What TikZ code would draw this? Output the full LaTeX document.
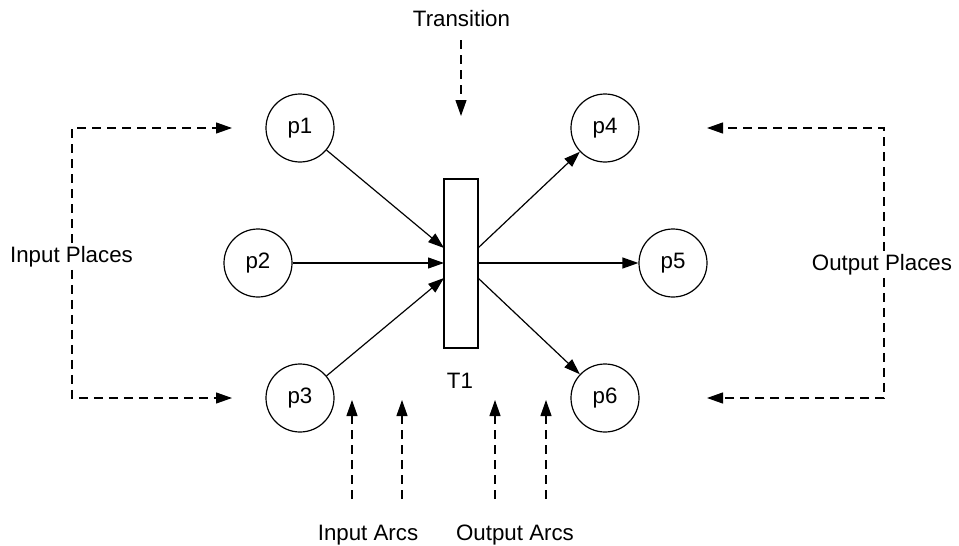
\documentclass[tikz,border=0pt]{standalone}
\usepackage{fontspec}
\setmainfont{Liberation Sans}
\usetikzlibrary{arrows.meta}

\begin{document}
\begin{tikzpicture}[x=1pt,y=-1pt,
  every node/.style={font=\fontsize{22.3}{26}\selectfont, inner sep=2pt},
  place/.style={draw, circle, minimum size=68pt, line width=1.2pt},
  trans/.style={draw, rectangle, minimum width=34pt, minimum height=169pt, line width=1.2pt},
  arc/.style={line width=1.2pt, -{Triangle[length=16pt,width=11pt]}},
  hint/.style={line width=1.2pt, dash pattern=on 9pt off 6pt, -{Triangle[length=16pt,width=11pt]}},
  label/.style={fill=white, inner sep=3pt, anchor=base}]
  \useasboundingbox (0,0) rectangle (959,546);

  % places and the transition
  \node[place] (p1) at (300,128) {p1};
  \node[place] (p2) at (258,263) {p2};
  \node[place] (p3) at (300,398) {p3};
  \node[place] (p4) at (605,128) {p4};
  \node[place] (p5) at (673,263) {p5};
  \node[place] (p6) at (605,398) {p6};
  \node[trans] (T) at (461,263.5) {};
  \node[anchor=base] (T1) at (460,388) {T1};

  % arc ends on the transition bar
  \coordinate (i1) at (444,248);
  \coordinate (i2) at (444,263);
  \coordinate (i3) at (444,278);
  \coordinate (o1) at (478,248);
  \coordinate (o2) at (478,263);
  \coordinate (o3) at (478,278);

  \draw[arc] (p1) -- (i1);
  \draw[arc] (p2) -- (i2);
  \draw[arc] (p3) -- (i3);
  \draw[arc] (o1) -- (p4);
  \draw[arc] (o2) -- (p5);
  \draw[arc] (o3) -- (p6);

  % annotations
  \node[anchor=base] (TL) at (461.5,26) {Transition};
  \coordinate (tt) at (461,40);
  \coordinate (th) at (461,116);
  \draw[hint] (tt) -- (th);

  \node[label] (IP) at (71.5,262) {Input Places};
  \coordinate (ipt) at (72,128);
  \coordinate (ipb) at (72,398);
  \coordinate (ia1) at (232,128);
  \coordinate (ia3) at (232,398);
  \draw[hint] (IP.north -| ipt) -- (ipt) -- (ia1);
  \draw[hint] (IP.south -| ipb) -- (ipb) -- (ia3);

  \node[label] (OP) at (882,270) {Output Places};
  \coordinate (opt) at (884,128);
  \coordinate (opb) at (884,398);
  \coordinate (oa4) at (707,128);
  \coordinate (oa6) at (707,398);
  \draw[hint] (OP.north -| opt) -- (opt) -- (oa4);
  \draw[hint] (OP.south -| opb) -- (opb) -- (oa6);

  \node[anchor=base] (IA) at (368,540) {Input Arcs};
  \node[anchor=base] (OA) at (515,540) {Output Arcs};
  \coordinate (ia1s) at (352,499);
  \coordinate (ia1e) at (352,400);
  \coordinate (ia2s) at (402,499);
  \coordinate (ia2e) at (402,400);
  \coordinate (oa1s) at (495,499);
  \coordinate (oa1e) at (495,400);
  \coordinate (oa2s) at (546,499);
  \coordinate (oa2e) at (546,400);
  \draw[hint] (ia1s) -- (ia1e);
  \draw[hint] (ia2s) -- (ia2e);
  \draw[hint] (oa1s) -- (oa1e);
  \draw[hint] (oa2s) -- (oa2e);
\end{tikzpicture}
\end{document}
